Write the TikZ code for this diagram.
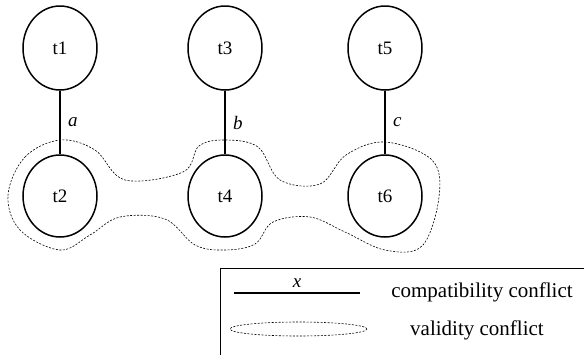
\documentclass[tikz,border=0pt]{standalone}
\usepackage{fontspec}
\setmainfont{Liberation Serif}
\usetikzlibrary{shapes.geometric}
\begin{document}
\begin{tikzpicture}[x=1pt,y=-1pt,
  task/.style={draw,line width=1.5pt,ellipse,minimum width=74pt,minimum height=84pt,inner sep=0pt,font=\fontsize{19}{21}\selectfont},
  conf/.style={line width=1.5pt},
  lab/.style={font=\fontsize{19}{21}\selectfont\itshape},
  valid/.style={dash pattern=on 2pt off 1.5pt,line width=0.6pt},
  legtext/.style={font=\fontsize{21}{23}\selectfont}]
\useasboundingbox (0,0) rectangle (584,354);
\node[task] (t1) at (60,48) {t1};
\node[task] (t3) at (225,48) {t3};
\node[task] (t5) at (385,48) {t5};
\node[task,minimum height=82pt] (t2) at (60,196) {t2};
\node[task,minimum height=82pt] (t4) at (225,196) {t4};
\node[task,minimum height=82pt] (t6) at (385,196) {t6};
\draw[conf] (t1) -- node[lab,right=4pt] {a} (t2);
\draw[conf] (t3) -- node[lab,right=4pt] {b} (t4);
\draw[conf] (t5) -- node[lab,right=4pt] {c} (t6);
\draw[valid] plot[smooth cycle,tension=0.6] coordinates {
 (8,195) (25,157) (60,140) (95,150) (125,180) (183,172) (199,146) (225,140) (258,147)
 (280,180) (320,184) (346,155) (385,142) (432,160) (439,197) (422,246) (385,250)
 (345,232) (310,217) (273,222) (255,244) (225,250) (195,245) (165,219) (120,217)
 (90,235) (60,250) (20,230)};
% legend
\draw[line width=1pt] (586,268) -- (220,268) -- (220,356);
\coordinate (l1) at (234,293);
\coordinate (l2) at (360,293);
\draw[conf] (l1) -- node[lab,above=1pt] {x} (l2);
\node[legtext] (ct) at (482,292) {compatibility conflict};
\node[valid,draw,ellipse,minimum width=137pt,minimum height=14pt,inner sep=0pt] (ve) at (298.5,329) {};
\node[legtext] (vt) at (477,330) {validity conflict};
\end{tikzpicture}
\end{document}
